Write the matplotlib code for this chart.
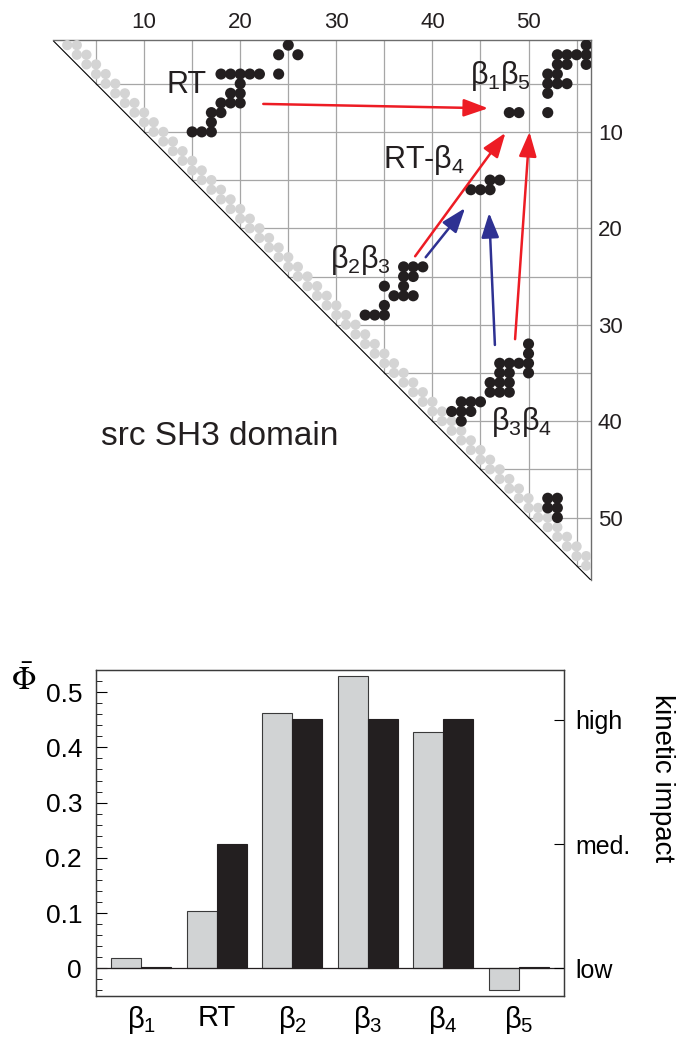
import numpy as np
import matplotlib
matplotlib.use("Agg")
from matplotlib import pyplot as plt
from matplotlib.ticker import MultipleLocator

plt.rcParams['font.family'] = ['Liberation Sans', 'DejaVu Sans']
plt.rcParams['mathtext.fontset'] = 'custom'
plt.rcParams['mathtext.rm'] = 'Liberation Sans'
plt.rcParams['mathtext.it'] = 'Liberation Sans'
plt.rcParams['mathtext.bf'] = 'Liberation Sans:bold'

# ---- contact map data ----
n_res = 56
vecinos_locales = (1, 2)   # i,i+1 e i,i+2 (puntos grises)

# contactos no locales: (fila, [columnas])
contactos = [
    (1, [25, 56]),
    (2, [24, 26, 53, 54, 55, 56]),
    (3, [53, 54, 56]),
    (4, [18, 19, 20, 21, 22, 24, 52, 53]),
    (5, [20, 52, 53, 54]),
    (6, [19, 20, 52]),
    (7, [18, 19, 20]),
    (8, [17, 18, 48, 49, 52]),
    (9, [17]),
    (10, [15, 16, 17]),
    (15, [46, 47]),
    (16, [44, 45, 46]),
    (24, [37, 38, 39]),
    (25, [37, 38]),
    (26, [35, 37]),
    (27, [36, 37, 38]),
    (28, [35]),
    (29, [33, 34, 35]),
    (32, [50]),
    (33, [50]),
    (34, [47, 48, 49, 50]),
    (35, [47, 48, 50]),
    (36, [46, 47, 48]),
    (37, [46, 47, 48]),
    (38, [43, 44, 45]),
    (39, [42, 43, 44]),
    (40, [43]),
    (48, [52, 53]),
    (49, [52, 53]),
    (50, [53]),
]

# flechas: (inicio, fin, color)
flechas = [
    ((22.4, 7.1), (45.8, 7.55), 'red'),
    ((38.2, 22.9), (47.6, 10.1), 'red'),
    ((48.6, 31.5), (50.1, 10.0), 'red'),
    ((39.3, 23.0), (43.4, 17.9), 'blue'),
    ((46.5, 32.1), (45.9, 18.4), 'blue'),
]
colores_flecha = {'red': '#ed1c24', 'blue': '#2e3192'}

etiquetas_mapa = [
    ('RT', 14.4, 5.1),
    (r'$\beta_1\beta_5$', 47.1, 4.2),
    (r'RT-$\beta_4$', 39.1, 12.9),
    (r'$\beta_2\beta_3$', 32.5, 23.3),
    (r'$\beta_3\beta_4$', 49.3, 40.1),
]

# ---- bar chart data ----
elementos = [r'$\beta_1$', 'RT', r'$\beta_2$', r'$\beta_3$', r'$\beta_4$', r'$\beta_5$']
phi_sim = [0.019, 0.103, 0.462, 0.529, 0.427, -0.040]
impacto = [0.002, 0.225, 0.452, 0.452, 0.452, 0.002]
niveles = [0, 0.225, 0.45]
niveles_txt = ['low', 'med.', 'high']

fig = plt.figure(figsize=(6.79, 10.38), dpi=100)

# ================= contact map =================
ax1 = fig.add_axes([52.8 / 679, 1 - 580.2 / 1038, 538.2 / 679, 539.9 / 1038])
lo, hi = 0.5, n_res + 0.5
ax1.set_xlim(lo, hi)
ax1.set_ylim(hi, lo)

for g in range(5, n_res + 1, 5):
    ax1.plot([g, g], [lo, g], color='#a6a6a6', lw=0.9, zorder=1)
    ax1.plot([g, hi], [g, g], color='#a6a6a6', lw=0.9, zorder=1)
ax1.plot([lo, hi], [lo, hi], color='black', lw=0.8, zorder=2)

gi = [i for i in range(1, n_res) for d in vecinos_locales if i + d <= n_res]
gj = [i + d for i in range(1, n_res) for d in vecinos_locales if i + d <= n_res]
ax1.scatter(gj, gi, s=54, color='#d4d4d4', edgecolors='none', zorder=3)

ci = [f for f, cols in contactos for c in cols]
cj = [c for f, cols in contactos for c in cols]
ax1.scatter(cj, ci, s=64, color='#231f20', edgecolors='none', zorder=4)

for ini, fin, col in flechas:
    ax1.annotate('', xy=fin, xytext=ini,
                 arrowprops=dict(arrowstyle='-|>,head_length=0.75,head_width=0.27',
                                 color=colores_flecha[col], lw=1.8,
                                 mutation_scale=20, shrinkA=0, shrinkB=0),
                 zorder=5)

for txt, x, y in etiquetas_mapa:
    ax1.text(x, y, txt, fontsize=22, ha='center', va='center', color='#231f20', zorder=6)
ax1.text(17.9, 41.6, 'src SH3 domain', fontsize=24, ha='center', va='center', color='#231f20')

ax1.xaxis.tick_top()
ax1.yaxis.tick_right()
ax1.set_xticks([10, 20, 30, 40, 50])
ax1.set_yticks([10, 20, 30, 40, 50])
ax1.tick_params(axis='both', length=0, labelsize=16, colors='#231f20')
ax1.tick_params(axis='x', pad=5)
ax1.tick_params(axis='y', pad=5)
ax1.spines['left'].set_visible(False)
ax1.spines['bottom'].set_visible(False)
for s in ('top', 'right'):
    ax1.spines[s].set_color('#6d6d6d')
    ax1.spines[s].set_linewidth(1.0)

# ================= bar chart =================
ax2 = fig.add_axes([96 / 679, 1 - 996 / 1038, 468 / 679, 326 / 1038])
x = np.arange(len(elementos))
ax2.bar(x - 0.2, phi_sim, width=0.4, color='#d1d3d4', edgecolor='#3a3a3a', lw=0.8, zorder=2)
ax2.bar(x + 0.2, impacto, width=0.4, color='#231f20', edgecolor='#231f20', lw=0.8, zorder=2)
ax2.axhline(0, color='#231f20', lw=0.9, zorder=3)
ax2.set_xlim(-0.6, 5.6)
ax2.set_ylim(-0.05, 0.54)

ax2.set_yticks([0, 0.1, 0.2, 0.3, 0.4, 0.5])
ax2.set_yticklabels(['0', '0.1', '0.2', '0.3', '0.4', '0.5'])
ax2.yaxis.set_minor_locator(MultipleLocator(0.02))
ax2.tick_params(axis='y', which='major', direction='in', length=8, labelsize=19, pad=10)
ax2.tick_params(axis='y', which='minor', direction='in', length=4)
ax2.set_xticks(x)
ax2.set_xticklabels(elementos)
ax2.tick_params(axis='x', length=0, labelsize=21, pad=6)
ax2.text(-0.155, 0.965, r'$\bar{\Phi}$', transform=ax2.transAxes, fontsize=23,
         ha='center', va='center', math_fontfamily='stix')

ax3 = ax2.twinx()
ax3.set_ylim(-0.05, 0.54)
ax3.set_yticks(niveles)
ax3.set_yticklabels(niveles_txt)
ax3.tick_params(axis='y', direction='in', length=7, labelsize=18, pad=8)
ax3.set_ylabel('kinetic impact', rotation=270, fontsize=20, va='center')
ax3.yaxis.set_label_coords(1.21, 0.67)

for a in (ax2, ax3):
    for s in a.spines.values():
        s.set_color('#3a3a3a')
        s.set_linewidth(0.9)

fig.savefig('out.png', dpi=100)
